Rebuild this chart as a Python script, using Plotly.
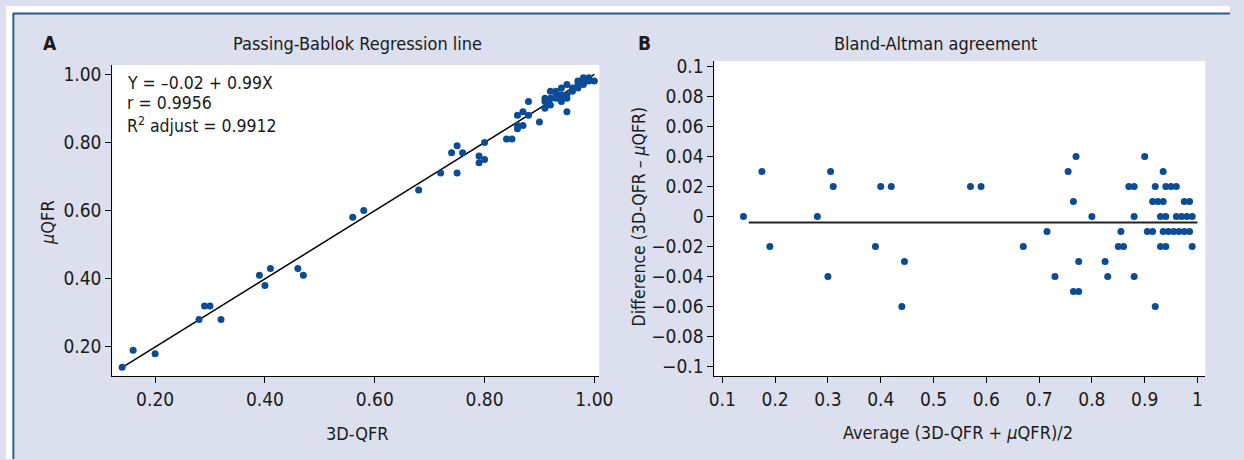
import plotly.graph_objects as go

# ---------------- data ----------------
# Panel A: Passing-Bablok (x = 3D-QFR, y = μQFR)
qfr3d = [0.14, 0.16, 0.20, 0.28, 0.29, 0.30, 0.32, 0.39, 0.40, 0.41,
         0.46, 0.47, 0.56, 0.58, 0.68, 0.72, 0.74, 0.75, 0.75, 0.76,
         0.79, 0.79, 0.80, 0.80, 0.84, 0.85, 0.86, 0.86, 0.86, 0.87,
         0.87, 0.88, 0.88, 0.90,
         0.92, 0.91, 0.93, 0.94, 0.95, 0.91, 0.92, 0.93, 0.97, 0.98,
         0.93, 0.94, 0.96, 0.97, 0.98, 0.99, 0.91, 0.92, 0.94, 0.95,
         0.96, 0.97, 0.98, 0.99, 0.94, 0.95, 1.00, 0.95]
uqfr = [0.14, 0.19, 0.18, 0.28, 0.32, 0.32, 0.28, 0.41, 0.38, 0.43,
        0.43, 0.41, 0.58, 0.60, 0.66, 0.71, 0.77, 0.79, 0.71, 0.77,
        0.76, 0.74, 0.80, 0.75, 0.81, 0.81, 0.88, 0.85, 0.84, 0.89,
        0.85, 0.92, 0.88, 0.86,
        0.95, 0.93, 0.95, 0.96, 0.97, 0.92, 0.93, 0.94, 0.98, 0.99,
        0.93, 0.94, 0.96, 0.97, 0.98, 0.99, 0.90, 0.91, 0.93, 0.94,
        0.95, 0.96, 0.97, 0.98, 0.92, 0.93, 0.98, 0.89]
reg_x = [0.144, 1.0]
reg_y = [0.143, 1.0]

# Panel B: Bland-Altman
ba_avg = [0.14, 0.175, 0.19, 0.28, 0.30, 0.305, 0.31, 0.39, 0.40, 0.42,
          0.44, 0.445, 0.57, 0.59, 0.67, 0.715, 0.73, 0.755, 0.765, 0.765,
          0.77, 0.775, 0.775, 0.80, 0.825, 0.83, 0.85, 0.855, 0.86, 0.87,
          0.88, 0.88, 0.88, 0.90, 0.905, 0.915, 0.915, 0.92, 0.92, 0.925,
          0.93, 0.93, 0.935, 0.935, 0.935, 0.94, 0.94, 0.94, 0.945, 0.95,
          0.955, 0.96, 0.96, 0.965, 0.97, 0.975, 0.975, 0.98, 0.985, 0.985,
          0.99, 0.99]
ba_diff = [0, 0.03, -0.02, 0, -0.04, 0.03, 0.02, -0.02, 0.02, 0.02,
           -0.06, -0.03, 0.02, 0.02, -0.02, -0.01, -0.04, 0.03, 0.01, -0.05,
           0.04, -0.03, -0.05, 0, -0.03, -0.04, -0.02, -0.01, -0.02, 0.02,
           0.02, 0, -0.04, 0.04, -0.01, 0.01, -0.01, 0.02, -0.06, 0.01,
           0, -0.02, 0.03, 0.01, -0.01, 0.02, 0, -0.02, -0.01, 0.02,
           -0.01, 0.02, 0, -0.01, 0, 0.01, -0.01, 0, 0.01, -0.01,
           0, -0.02]
mean_x = [0.15, 1.0]
mean_y = [-0.004, -0.004]

a_xticks = [0.2, 0.4, 0.6, 0.8, 1.0]
a_xlabels = ["0.20", "0.40", "0.60", "0.80", "1.00"]
a_yticks = [0.2, 0.4, 0.6, 0.8, 1.0]
a_ylabels = ["0.20", "0.40", "0.60", "0.80", "1.00"]
b_xticks = [0.1, 0.2, 0.3, 0.4, 0.5, 0.6, 0.7, 0.8, 0.9, 1.0]
b_xlabels = ["0.1", "0.2", "0.3", "0.4", "0.5", "0.6", "0.7", "0.8", "0.9", "1"]
b_yticks = [0.1, 0.08, 0.06, 0.04, 0.02, 0, -0.02, -0.04, -0.06, -0.08, -0.1]
b_ylabels = ["0.1", "0.08", "0.06", "0.04", "0.02", "0", "\u22120.02", "\u22120.04",
             "\u22120.06", "\u22120.08", "\u22120.1"]

# ---------------- style ----------------
W, H = 1244, 460
FONT = "DejaVu Sans Condensed, Liberation Sans Narrow, sans-serif"
DOT = "#0a4c96"
BG = "#dcdfee"
TXT = "#1a1a1a"


def px(x):
    return x / W


def py(y):
    return 1 - y / H


fig = go.Figure()
fig.add_trace(go.Scatter(x=reg_x, y=reg_y, mode="lines",
                         line=dict(color="black", width=1.5),
                         xaxis="x", yaxis="y", showlegend=False, hoverinfo="skip"))
fig.add_trace(go.Scatter(x=qfr3d, y=uqfr, mode="markers",
                         marker=dict(color=DOT, size=7),
                         xaxis="x", yaxis="y", showlegend=False))
fig.add_trace(go.Scatter(x=mean_x, y=mean_y, mode="lines",
                         line=dict(color="#222222", width=2),
                         xaxis="x2", yaxis="y2", showlegend=False, hoverinfo="skip"))
fig.add_trace(go.Scatter(x=ba_avg, y=ba_diff, mode="markers",
                         marker=dict(color=DOT, size=7),
                         xaxis="x2", yaxis="y2", showlegend=False))

axis_common = dict(showgrid=False, zeroline=False, showline=True, linecolor="black",
                   linewidth=1, ticks="outside", ticklen=6, tickcolor="black",
                   tickfont=dict(family=FONT, size=19, color=TXT))

fig.update_layout(
    width=W, height=H,
    margin=dict(l=0, r=0, t=0, b=0),
    paper_bgcolor=BG, plot_bgcolor="white",
    font=dict(family=FONT, size=18, color=TXT),
    xaxis=dict(domain=[px(108), px(603)], range=[0.122, 1.009], anchor="y",
               tickvals=a_xticks, ticktext=a_xlabels, **axis_common),
    yaxis=dict(domain=[py(376), py(60)], range=[0.1135, 1.027], anchor="x",
               tickvals=a_yticks, ticktext=a_ylabels, **axis_common),
    xaxis2=dict(domain=[px(720), px(1219)], range=[0.085, 1.015], anchor="y2",
                tickvals=b_xticks, ticktext=b_xlabels, **axis_common),
    yaxis2=dict(domain=[py(376), py(56)], range=[-0.1066, 0.1037], anchor="x2",
                tickvals=b_yticks, ticktext=b_ylabels, **axis_common),
)

# frame: white strip top/left with blue border line
fig.add_shape(type="rect", xref="paper", yref="paper", x0=0, x1=1, y0=py(7), y1=1,
              fillcolor="white", line=dict(width=0), layer="above")
fig.add_shape(type="rect", xref="paper", yref="paper", x0=0, x1=px(7), y0=0, y1=1,
              fillcolor="white", line=dict(width=0), layer="above")
fig.add_shape(type="line", xref="paper", yref="paper", x0=px(7), x1=1, y0=py(7.5), y1=py(7.5),
              line=dict(color="#2b5b98", width=2), layer="above")
fig.add_shape(type="line", xref="paper", yref="paper", x0=px(7.5), x1=px(7.5), y0=0, y1=py(7),
              line=dict(color="#2b5b98", width=2), layer="above")


def note(text, x, y, xanchor="center", size=18, angle=0, bold=False):
    fig.add_annotation(text=("<b>%s</b>" % text) if bold else text,
                       x=px(x), y=py(y), xref="paper", yref="paper",
                       xanchor=xanchor, yanchor="middle", showarrow=False,
                       textangle=angle, font=dict(family=FONT, size=size, color=TXT))


note("A", 45, 38, bold=True, size=19)
note("Passing-Bablok Regression line", 357, 38)
note("B", 649, 38, bold=True, size=19)
note("Bland-Altman agreement", 945, 38)
note("Y = \u20130.02 + 0.99X", 121, 78, xanchor="left", size=17.5)
note("r = 0.9956", 121, 99, xanchor="left", size=17.5)
note("R<sup>2</sup> adjust = 0.9912", 121, 121, xanchor="left", size=17.5)
note("3D-QFR", 357, 434)
note("Average (3D-QFR + <i>\u03bc</i>QFR)/2", 968, 433)
note("<i>\u03bc</i>QFR", 42, 220, angle=-90)
note("Difference (3D-QFR \u2013 <i>\u03bc</i>QFR)", 643, 214, angle=-90, size=17.5)

fig.write_html("out.html", config={"displayModeBar": False},
               post_script="document.body.style.margin='0';document.body.style.overflow='hidden';")
